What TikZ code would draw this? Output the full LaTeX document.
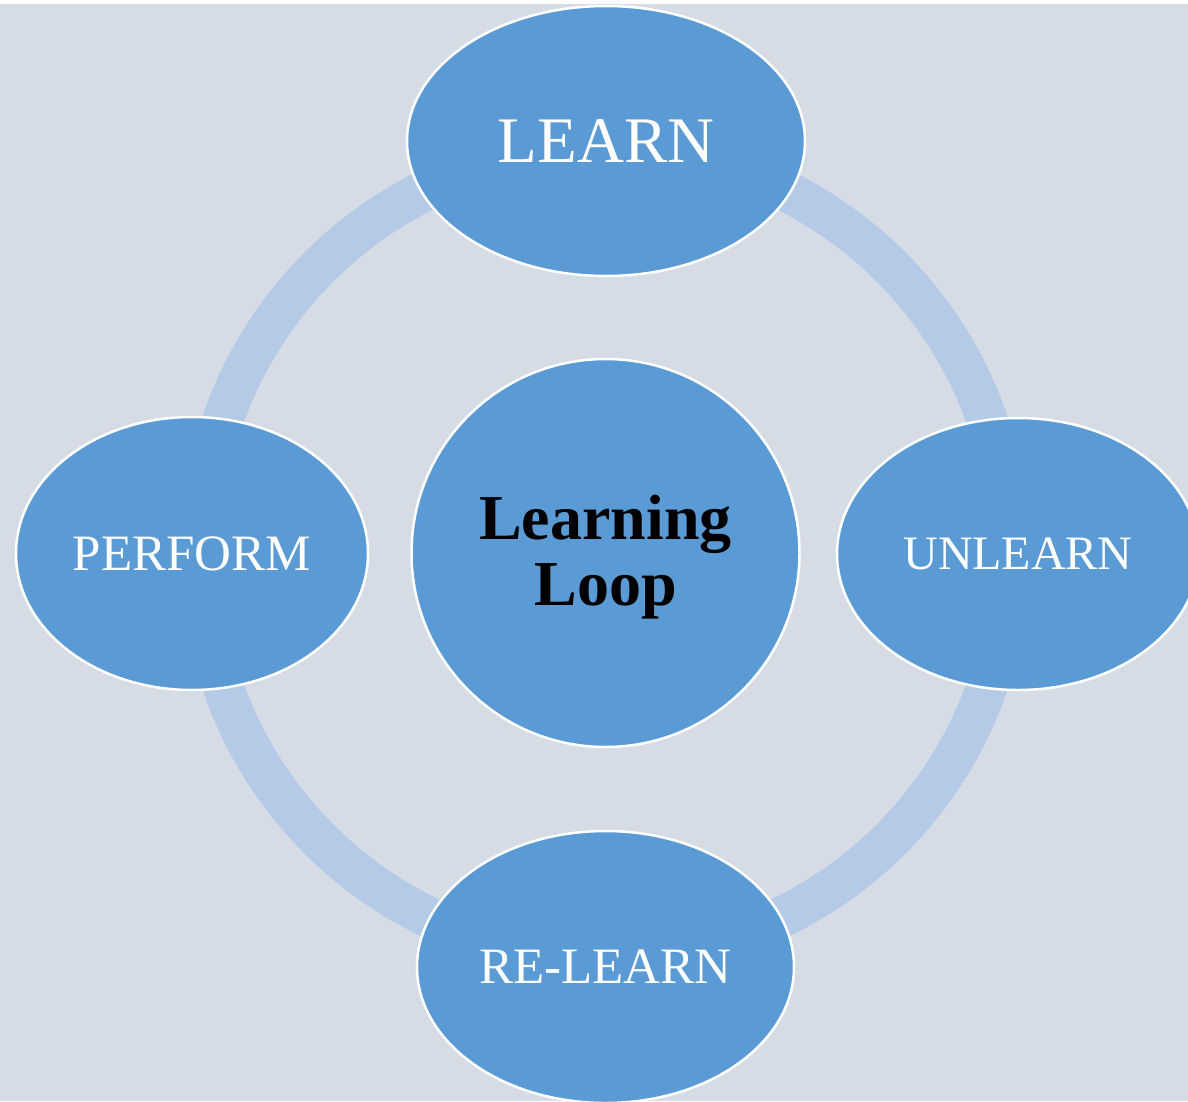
\documentclass[tikz,border=0pt]{standalone}
\usepackage{fontspec}
\setmainfont{Liberation Serif}
\usetikzlibrary{shapes.geometric}
\definecolor{bg}{HTML}{D5DCE6}
\definecolor{ringc}{HTML}{B4CAE7}
\definecolor{blob}{HTML}{5B9BD5}
\begin{document}
\begin{tikzpicture}[x=1pt,y=-1pt,
  blobstyle/.style={ellipse, fill=blob, draw=white, line width=2.5pt, inner sep=0pt, text=white},
  ringstyle/.style={draw=ringc, line width=41pt}]
\useasboundingbox (0,0) rectangle (1188,1101);
\fill[white] (0,0) rectangle (1188,1101);
\begin{scope}
\clip (0,4) rectangle (1188,1101);
\fill[bg] (0,4) rectangle (1188,1101);
\coordinate (c) at (605,553);
\draw[ringstyle] (c) circle[radius=404.5];
\node[blobstyle, minimum width=398pt, minimum height=270pt, font=\fontsize{65}{65}\selectfont] (learn) at (606,141) {LEARN};
\node[blobstyle, minimum width=352pt, minimum height=273pt, font=\fontsize{51}{51}\selectfont] (perform) at (192,553.5) {PERFORM};
\node[blobstyle, minimum width=362pt, minimum height=272pt, font=\fontsize{48}{48}\selectfont] (unlearn) at (1018,554) {UNLEARN};
\node[blobstyle, minimum width=377pt, minimum height=272pt, font=\fontsize{51}{51}\selectfont] (relearn) at (605.5,967) {RE-LEARN};
\node[circle, fill=blob, draw=white, line width=2.5pt, inner sep=0pt, minimum size=388pt] (center) at (605.5,553) {};
\node[align=center, text=black, font=\bfseries\fontsize{64}{66}\selectfont, inner sep=0pt] (title) at (605.5,557) {Learning\\Loop};
\end{scope}
\end{tikzpicture}
\end{document}
